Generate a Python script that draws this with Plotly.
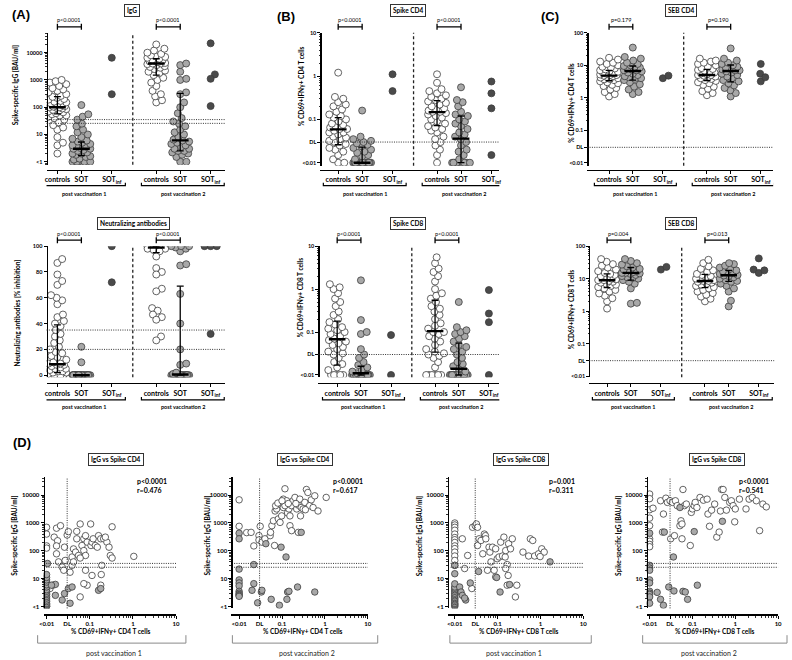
import numpy as np
import plotly.graph_objects as go

W, H = 792, 660
FONT = "Lato"

# ------------------------------------------------------------------ data
categories = ["controls", "SOT", "SOT<sub>inf</sub>"]
timepoints = ["post vaccination 1", "post vaccination 2"]

# (A) spike-specific IgG [BAU/ml]
igg_v1_controls = [2, 4, 5, 8, 15, 18, 22, 28, 35, 40, 45, 50, 50, 55, 60, 65, 70, 75, 80, 85, 90, 95, 100, 100,
                   105, 110, 120, 130, 140, 150, 160, 170, 190, 200, 220, 240, 260, 300, 350, 400, 450, 500, 600,
                   700, 800, 900, 1000]
igg_v1_sot = [1, 1, 1, 1, 1, 1, 1, 1, 1.2, 1.3, 1.5, 1.6, 1.8, 2, 2, 2.2, 2.5, 2.7, 3, 3, 3.2, 3.5, 3.8, 4, 4.5,
              5, 5.5, 6, 7, 8, 10, 12, 15, 20, 25, 35, 45, 55, 120]
igg_v1_sotinf = [6500, 300]
igg_v2_controls = [150, 180, 250, 300, 400, 600, 800, 1000, 1200, 1500, 1800, 2000, 2200, 2500, 2800, 3000, 3200,
                   3500, 3800, 4000, 4000, 4200, 4500, 4800, 5000, 5200, 5500, 6000, 6500, 7000, 7500, 8000, 9000,
                   10000, 12000, 14000, 20000]
igg_v2_sot = [1, 1, 1.5, 1.8, 2, 2.2, 2.5, 2.5, 3, 3, 3.5, 4, 4.5, 5, 5.5, 6, 6.5, 8, 10, 12, 15, 20, 25, 30, 40,
              60, 100, 150, 300, 350, 1000, 1100, 2000, 3500, 4000]
igg_v2_sotinf = [22000, 1600, 1100, 110]
igg_median = [100, 3.0, 4000, 6.1]
igg_q1 = [57, 1.7, 1500, 2.5]
igg_q3 = [245, 5.3, 6000, 320]
igg_p = ["p&lt;0.0001", "p&lt;0.0001"]
igg_ticks = [1, 10, 100, 1000, 10000]
igg_ticktext = ["&lt;1", "10", "100", "1000", "10000"]
igg_cutoffs = [25.6, 35.2]

# (A) neutralizing antibodies [% inhibition]
nab_v1_controls = [0, 0, 0, 0, 0, 1, 2, 2, 3, 3, 4, 5, 5, 6, 7, 8, 8, 9, 9, 10, 12, 14, 15, 17, 18, 20, 22, 25, 27,
                   30, 32, 35, 38, 40, 42, 45, 47, 55, 58, 60, 62, 70, 73, 78, 87, 90]
nab_v1_sot = [0] * 28 + [10, 22]
nab_v1_sotinf = [100, 72]
nab_v2_controls = [100] * 18 + [99, 99, 98, 98, 97, 96, 92, 83, 80, 78, 67, 65, 52, 50, 47, 45, 43, 30, 27]
nab_v2_sot = [0] * 20 + [1, 2, 8, 9, 20, 40, 63, 85, 86, 96, 98, 99, 100, 100, 100]
nab_v2_sotinf = [100, 100, 100, 32]
nab_median = [8.5, 0, 99, 0.5]
nab_q1 = [2, 0, 95, 0]
nab_q3 = [39, 0, 100, 69]
nab_p = ["p&lt;0.0001", "p&lt;0.0001"]
nab_ticks = [0, 20, 40, 60, 80, 100]
nab_ticktext = ["0", "20", "40", "60", "80", "100"]
nab_cutoffs = [20, 35]

# (B) spike CD4 [% CD69+IFNg+ of CD4]
scd4_v1_controls = [0.01, 0.01, 0.012, 0.015, 0.018, 0.02, 0.022, 0.025, 0.027, 0.03, 0.032, 0.035, 0.038, 0.04,
                    0.045, 0.05, 0.05, 0.055, 0.06, 0.06, 0.065, 0.07, 0.075, 0.08, 0.09, 0.1, 0.11, 0.12, 0.13,
                    0.15, 0.17, 0.2, 0.22, 0.25, 0.3, 0.33, 1.2]
scd4_v1_sot = [0.01] * 20 + [0.012, 0.014, 0.015, 0.017, 0.018, 0.02, 0.022, 0.024, 0.026, 0.028, 0.03, 0.032,
                             0.035, 0.04, 0.16]
scd4_v1_sotinf = [1.1, 0.45]
scd4_v2_controls = [0.01, 0.015, 0.02, 0.025, 0.03, 0.035, 0.04, 0.05, 0.055, 0.06, 0.065, 0.07, 0.08, 0.09, 0.1,
                    0.11, 0.12, 0.13, 0.14, 0.15, 0.15, 0.16, 0.17, 0.18, 0.2, 0.22, 0.24, 0.26, 0.28, 0.3, 0.33,
                    0.36, 0.4, 0.45, 0.5, 0.7, 1.1]
scd4_v2_sot = [0.01] * 9 + [0.012, 0.015, 0.018, 0.02, 0.025, 0.03, 0.035, 0.04, 0.045, 0.05, 0.06, 0.07, 0.08,
                            0.09, 0.1, 0.12, 0.13, 0.15, 0.2, 0.25, 0.28, 0.55]
scd4_v2_sotinf = [0.75, 0.4, 0.18, 0.015]
scd4_median = [0.059, 0.01, 0.147, 0.036]
scd4_q1 = [0.026, 0.01, 0.072, 0.01]
scd4_q3 = [0.11, 0.023, 0.27, 0.12]
scd4_p = ["p&lt;0.0001", "p&lt;0.0001"]

# (B) spike CD8
scd8_v1_controls = [0.01] * 5 + [0.013, 0.015, 0.018, 0.02, 0.025, 0.03, 0.032, 0.035, 0.04, 0.045, 0.05, 0.055,
                                 0.06, 0.065, 0.07, 0.08, 0.09, 0.1, 0.11, 0.12, 0.13, 0.15, 0.17, 0.2, 0.25, 0.3,
                                 0.4, 0.5, 0.6, 0.8, 1.0, 1.1, 1.3]
scd8_v1_sot = [0.01] * 22 + [0.011, 0.012, 0.013, 0.015, 0.017, 0.02, 0.025, 0.03, 0.04, 0.09, 0.1, 0.19, 1.6]
scd8_v1_sotinf = [0.085, 0.01]
scd8_v2_controls = [0.01] * 6 + [0.015, 0.02, 0.025, 0.028, 0.03, 0.032, 0.035, 0.04, 0.05, 0.06, 0.07, 0.08,
                                 0.09, 0.1, 0.1, 0.12, 0.14, 0.16, 0.2, 0.25, 0.3, 0.35, 0.4, 0.5, 0.6, 0.7, 0.8,
                                 1.0, 1.5, 2.0, 2.5, 3.0, 4.0, 5.5]
scd8_v2_sot = [0.01] * 18 + [0.012, 0.014, 0.016, 0.018, 0.02, 0.025, 0.03, 0.035, 0.04, 0.045, 0.05, 0.06, 0.07,
                             0.08, 0.09, 0.1, 0.11, 0.13, 0.5]
scd8_v2_sotinf = [0.95, 0.27, 0.17, 0.01]
scd8_median = [0.068, 0.011, 0.105, 0.014]
scd8_q1 = [0.017, 0.01, 0.034, 0.01]
scd8_q3 = [0.18, 0.016, 0.55, 0.055]
scd8_p = ["p&lt;0.0001", "p&lt;0.0001"]

tcell_ticks = [0.01, 0.03, 0.1, 1, 10]
tcell_ticktext = ["&lt;0.01", "DL", "0.1", "1", "10"]
detection_limit = 0.03

# (C) SEB CD4
seb4_v1_controls = [1.1, 1.3, 1.5, 1.8, 2.0, 2.3, 2.5, 2.8, 3.0, 3.2, 3.5, 3.7, 3.8, 4.0, 4.2, 4.4, 4.6, 4.8, 5.0,
                    5.0, 5.2, 5.5, 5.8, 6.0, 6.3, 6.6, 7.0, 7.5, 8.0, 8.5, 9.0, 10, 11, 12, 13, 15, 17]
seb4_v1_sot = [1.3, 1.5, 1.8, 2.2, 2.6, 3.0, 3.5, 3.8, 4.0, 4.3, 4.6, 5.0, 5.5, 6.0, 6.5, 7.0, 7.0, 7.5, 8.0, 8.5,
               9.0, 9.5, 10, 11, 12, 14, 16, 18, 35]
seb4_v1_sotinf = [4.0, 4.8]
seb4_v2_controls = [1.2, 1.4, 1.6, 1.9, 2.2, 2.5, 2.8, 3.0, 3.3, 3.5, 3.8, 4.0, 4.2, 4.5, 4.8, 5.0, 5.0, 5.3, 5.6,
                    6.0, 6.4, 6.8, 7.2, 7.7, 8.2, 9.0, 10, 11, 12, 13, 14, 16]
seb4_v2_sot = [1.1, 1.4, 1.7, 2.0, 2.4, 2.8, 3.2, 3.5, 4.0, 4.5, 5.0, 5.5, 6.0, 6.5, 7.0, 7.0, 7.5, 8.0, 8.5, 9.0,
               10, 11, 12, 14, 16, 33]
seb4_v2_sotinf = [5.5, 11, 3.2, 4.3]
seb4_median = [4.8, 6.7, 5.0, 6.7]
seb4_q1 = [3.35, 3.5, 3.4, 3.1]
seb4_q3 = [7.0, 9.5, 7.5, 10.2]
seb4_p = ["p=0.179", "p=0.190"]

# (C) SEB CD8
seb8_v1_controls = [1.2, 2.0, 2.5, 3.0, 3.5, 4.0, 4.5, 5.0, 5.5, 6.0, 6.5, 7.0, 7.5, 8.0, 8.5, 9.0, 9.0, 9.5, 10,
                    11, 12, 13, 14, 15, 17, 19, 22, 25, 28, 33, 40]
seb8_v1_sot = [1.7, 1.8, 5, 7, 8, 9, 10, 10.5, 11, 12, 13, 14, 14.5, 15, 15, 16, 17, 18, 19, 20, 22, 24, 27, 30,
               35, 40]
seb8_v1_sotinf = [19, 23]
seb8_v2_controls = [2.0, 2.4, 2.8, 3.2, 3.6, 4.0, 4.5, 5.0, 5.5, 6.0, 6.5, 7.0, 7.5, 8.0, 8.5, 8.5, 9.0, 9.5, 10,
                    11, 12, 13, 14, 16, 18, 20, 24, 30, 38]
seb8_v2_sot = [1.4, 2.1, 4, 5, 6, 7, 8, 8.5, 9, 10, 11, 12, 12.5, 13, 14, 15, 16, 17, 18, 20, 22, 25, 28, 30]
seb8_v2_sotinf = [19, 15, 42, 18]
seb8_median = [8.9, 15, 8.5, 12.7]
seb8_q1 = [5.3, 9, 5.3, 8.3]
seb8_q3 = [14, 22, 13.6, 18]
seb8_p = ["p=0.004", "p=0.013"]

seb_ticks = [0.01, 0.03, 0.1, 1, 10, 100]
seb_ticktext = ["&lt;0.01", "DL", "0.1", "1", "10", "100"]

# (D) IgG vs spike T cells  (x = % CD69+IFNg+ T cells, y = IgG BAU/ml)
d1_ctrl_x = [0.01, 0.01, 0.01, 0.01, 0.017, 0.021, 0.015, 0.018, 0.017, 0.017, 0.019, 0.023, 0.026, 0.03, 0.032,
             0.027, 0.039, 0.042, 0.047, 0.039, 0.042, 0.055, 0.06, 0.05, 0.073, 0.08, 0.087, 0.066, 0.073, 0.08,
             0.105, 0.107, 0.113, 0.12, 0.135, 0.16, 0.15, 0.18, 0.21, 0.25, 0.28, 0.3, 0.33, 0.23, 0.113, 0.087,
             0.073, 0.06, 0.08, 0.035, 0.025, 0.012, 0.014, 0.06, 0.19, 0.185, 0.18, 1.05, 0.33, 0.05]
d1_ctrl_y = [700, 400, 150, 125, 650, 800, 310, 230, 150, 78, 40, 26, 135, 370, 490, 45, 60, 117, 90, 30, 40, 68,
             920, 270, 270, 350, 205, 155, 102, 68, 920, 155, 205, 270, 155, 350, 135, 270, 270, 205, 135, 68, 55,
             310, 13, 5.8, 6.6, 2.2, 20, 17, 20, 4.4, 5.8, 55, 30, 14, 5.8, 63, 730, 500]
d1_sot_x = [0.01] * 19 + [0.016, 0.016, 0.023, 0.026, 0.035, 0.032, 0.039, 0.0105, 0.16, 0.18, 0.013]
d1_sot_y = [1, 1, 1.1, 1.2, 1.3, 1.5, 1.7, 2, 2.3, 2.7, 3, 3.5, 4, 5, 6, 7.5, 9, 11, 14,
            6.2, 2.5, 1.7, 2.9, 1.3, 4.4, 5.0, 35, 3.8, 4.4, 5.8]

d2_ctrl_x = [0.01, 0.01, 0.015, 0.019, 0.022, 0.029, 0.031, 0.029, 0.034, 0.04, 0.053, 0.054, 0.058, 0.063, 0.069,
             0.075, 0.071, 0.08, 0.082, 0.09, 0.098, 0.107, 0.107, 0.117, 0.128, 0.135, 0.145, 0.153, 0.153, 0.167,
             0.18, 0.2, 0.22, 0.24, 0.26, 0.28, 0.31, 0.34, 0.37, 0.4, 0.44, 0.48, 0.53, 0.58, 0.69, 1.07, 0.067,
             0.167, 0.24, 0.117, 0.14, 0.21, 0.1, 0.27, 0.35]
d2_ctrl_y = [6800, 760, 450, 460, 150, 350, 760, 245, 205, 270, 350, 460, 800, 1200, 2700, 3200, 4200, 5200, 1400,
             1050, 1800, 7200, 3600, 17000, 6300, 2300, 3200, 1800, 800, 4200, 6300, 8300, 3200, 4400, 7200, 3600,
             3200, 5500, 16000, 12500, 4200, 6800, 3600, 9500, 2700, 8300, 155, 530, 460, 4200, 5000, 5000, 6300,
             1800, 3000]
d2_sot_x = [0.01] * 11 + [0.022, 0.02, 0.022, 0.033, 0.034, 0.027, 0.042, 0.056, 0.087, 0.095, 0.124, 0.13, 0.135,
                          0.145, 0.23, 0.58, 0.28]
d2_sot_y = [430, 270, 22, 9, 7, 5.5, 3.5, 3, 2.7, 2.5, 2.3, 6.6, 3.8, 32, 3.3, 3.8, 1.35, 180, 1.8, 1.1, 135, 60,
            1.8, 3.3, 3.5, 5.0, 3.3, 460]

d3_ctrl_x = [0.01] * 14 + [0.015, 0.02, 0.017, 0.025, 0.026, 0.03, 0.032, 0.034, 0.037, 0.034, 0.041, 0.045, 0.049,
                           0.052, 0.053, 0.058, 0.063, 0.066, 0.07, 0.076, 0.083, 0.09, 0.098, 0.108, 0.118, 0.13,
                           0.14, 0.15, 0.154, 0.167, 0.176, 0.154, 0.18, 0.2, 0.22, 0.167, 0.26, 0.28, 0.39, 0.53,
                           0.73, 0.58, 0.66, 0.9, 1.07, 1.22, 0.98, 0.09]
d3_ctrl_y = [1000, 850, 700, 550, 400, 300, 250, 200, 150, 120, 90, 65, 45, 30,
             270, 68, 23, 4.4, 700, 800, 920, 700, 270, 155, 235, 78, 400, 350, 270, 20, 135, 90, 40, 135, 20, 118,
             52, 60, 205, 65, 310, 60, 102, 32, 13, 23, 180, 118, 270, 5.8, 2.2, 5.8, 90, 65, 65, 270, 235, 78, 118,
             90, 62, 11.5]
d3_sot_x = [0.01] * 18 + [0.013, 0.014, 0.015, 0.018, 0.017, 0.023, 0.036, 0.095, 0.114, 0.19, 1.67]
d3_sot_y = [1, 1.1, 1.2, 1.3, 1.5, 1.7, 1.9, 2.1, 2.4, 2.7, 3, 3.5, 4, 4.5, 5, 6.5, 15, 30,
            5.0, 3.3, 2.5, 1.7, 2.0, 7, 18, 11, 3.3, 6.1, 40]

d4_ctrl_x = [0.01] * 9 + [0.012, 0.02, 0.018, 0.021, 0.024, 0.026, 0.03, 0.031, 0.034, 0.038, 0.04, 0.044, 0.051,
                          0.054, 0.06, 0.057, 0.065, 0.072, 0.057, 0.089, 0.094, 0.1, 0.11, 0.116, 0.127, 0.15, 0.18,
                          0.22, 0.23, 0.25, 0.28, 0.33, 0.37, 0.42, 0.45, 0.48, 0.52, 0.57, 0.62, 0.74, 0.81, 0.89,
                          0.97, 1.0, 1.25, 1.78, 2.1, 2.5, 3.1, 3.7, 4.4, 5.3]
d4_ctrl_y = [11000, 7500, 3000, 1500, 800, 270, 220, 170, 140,
             3400, 470, 6300, 2100, 7800, 5500, 6300, 270, 5500, 350, 6300, 4200, 800, 1200, 16000, 920, 4200, 4800,
             270, 155, 2400, 3200, 4200, 5500, 3600, 8300, 6600, 7200, 2100, 760, 2900, 4800, 310, 470, 2700, 16000,
             16000, 8300, 2900, 5500, 6300, 4200, 1100, 3200, 7200, 3200, 7200, 8300, 6300, 530, 4800, 3800]
d4_sot_x = [0.01] * 11 + [0.015, 0.018, 0.021, 0.022, 0.028, 0.036, 0.037, 0.051, 0.06, 0.068, 0.077, 0.11, 0.13, 0.5]
d4_sot_y = [430, 30, 24, 20, 9, 7, 3.5, 3, 2.7, 2.2, 1.3,
            3.2, 1.8, 1.1, 470, 5.0, 60, 3.6, 3600, 3.5, 3.3, 1.8, 490, 5.8, 1150]

corr_stats = [("p&lt;0.0001", "r=0.476"), ("p&lt;0.0001", "r=0.617"),
              ("p=0.001", "r=0.311"), ("p&lt;0.0001", "r=0.541")]
corr_titles = ["IgG vs Spike CD4", "IgG vs Spike CD4", "IgG vs Spike CD8", "IgG vs Spike CD8"]
corr_xtitles = ["% CD69+IFNγ+ CD4 T cells", "% CD69+IFNγ+ CD4 T cells",
                "% CD69+IFNγ+ CD8 T cells", "% CD69+IFNγ+ CD8 T cells"]
corr_tp = [0, 1, 0, 1]

# ------------------------------------------------------------------ styling / helpers
CAT_POS = [0, 0.97, 2.2, 4, 4.97, 6.2]
FILL = ["white", "#a8a8a8", "#4a4a4a"]
EDGE = "#3c3c3c"
DOT = "1px,1.3px"
DASH = "3px,2.5px"
LOG_MINOR = [m * 10.0 ** k for k in range(-1, 5) for m in range(2, 10)]
D_XMINOR = [m * 10.0 ** k for k in (-2, -1, 0) for m in range(2, 10) if m * 10.0 ** k > 0.035]


def PX(x):
    return x / W


def PY(y):
    return 1 - y / H


def names(i):
    s = "" if i == 1 else str(i)
    return "xaxis" + s, "yaxis" + s, "x" + s, "y" + s


def swarm(vals, to_px, diam=6.2, cap=9.0):
    vals = np.asarray(vals, float)
    order = np.argsort(vals, kind="stable")
    px_, py_ = [], []
    offs = np.zeros(len(vals))
    for i in order:
        y = to_px(vals[i])
        near = [(a, b) for a, b in zip(px_, py_) if abs(b - y) < diam]
        cands = [0.0]
        for a, b in near:
            d = np.sqrt(max(diam ** 2 - (b - y) ** 2, 0.0))
            cands += [a + d, a - d]
        best = None
        for c in sorted(cands, key=lambda t: (abs(t), -t)):
            if abs(c) > cap + 1e-9:
                continue
            if all((c - a) ** 2 + (y - b) ** 2 >= diam ** 2 - 1e-6 for a, b in near):
                best = c
                break
        if best is None:
            grid = np.linspace(-cap, cap, 41)
            score = [min((g - a) ** 2 + (y - b) ** 2 for a, b in near) for g in grid]
            best = float(grid[int(np.argmax(score))])
        offs[i] = best
        px_.append(best)
        py_.append(y)
    return offs


fig = go.Figure()
layout = {}
shapes = []
annots = []


def text(x, y, s, size=6, bold=True, xanchor="center", yanchor="middle", angle=0, color="black",
         xref="paper", family=FONT, **kw):
    annots.append(dict(x=x, y=y, xref=xref, yref="paper", text=("<b>%s</b>" % s) if bold else s,
                       showarrow=False, xanchor=xanchor, yanchor=yanchor, textangle=angle,
                       font=dict(family=family, size=size, color=color), **kw))


def title_box(cx, cy, s, size=6.5):
    text(PX(cx), PY(cy), s, size=size, bordercolor="#333", borderwidth=1, borderpad=2, bgcolor="white")


# ------------------------------------------------------------------ column-scatter panels
col_panels = [
    dict(groups=[igg_v1_controls, igg_v1_sot, igg_v1_sotinf, igg_v2_controls, igg_v2_sot, igg_v2_sotinf],
         med=igg_median, q1=igg_q1, q3=igg_q3, p=igg_p, ticks=igg_ticks, ticktext=igg_ticktext,
         hlines=igg_cutoffs, log=True, title="IgG", ytitle="Spike-specific IgG [BAU/ml]",
         left=42, right=223, top=30, bottom=163, xline=168, cat0=53, unit=25.0, yr=(-0.11, 4.73),
         title_xy=(128, 8), ytitle_xy=(10, 83), p_y=(17, 24), br_y=(184, 192)),
    dict(groups=[nab_v1_controls, nab_v1_sot, nab_v1_sotinf, nab_v2_controls, nab_v2_sot, nab_v2_sotinf],
         med=nab_median, q1=nab_q1, q3=nab_q3, p=nab_p, ticks=nab_ticks, ticktext=nab_ticktext,
         hlines=nab_cutoffs, log=False, title="Neutralizing antibodies",
         ytitle="Neutralizing antibodies [% inhibition]",
         left=42, right=223, top=245, bottom=377, xline=383, cat0=53, unit=25.0, yr=(-1.5, 100),
         title_xy=(130, 222), ytitle_xy=(13, 312), p_y=(233, 239), br_y=(400, 407)),
    dict(groups=[scd4_v1_controls, scd4_v1_sot, scd4_v1_sotinf, scd4_v2_controls, scd4_v2_sot, scd4_v2_sotinf],
         med=scd4_median, q1=scd4_q1, q3=scd4_q3, p=scd4_p, ticks=tcell_ticks, ticktext=tcell_ticktext,
         hlines=[detection_limit], log=True, title="Spike CD4", ytitle="% CD69+IFNγ+ CD4 T cells",
         left=319, right=500, top=30, bottom=164, xline=168, cat0=337, unit=25.0, yr=(-2.07, 1),
         title_xy=(408, 8), ytitle_xy=(300, 84), p_y=(17, 24), br_y=(184, 192)),
    dict(groups=[scd8_v1_controls, scd8_v1_sot, scd8_v1_sotinf, scd8_v2_controls, scd8_v2_sot, scd8_v2_sotinf],
         med=scd8_median, q1=scd8_q1, q3=scd8_q3, p=scd8_p, ticks=tcell_ticks, ticktext=tcell_ticktext,
         hlines=[detection_limit], log=True, title="Spike CD8", ytitle="% CD69+IFNγ+ CD8 T cells",
         left=317, right=500, top=245, bottom=377, xline=383, cat0=336, unit=24.75, yr=(-2.05, 1),
         title_xy=(408, 222), ytitle_xy=(299, 297), p_y=(233, 239), br_y=(400, 407)),
    dict(groups=[seb4_v1_controls, seb4_v1_sot, seb4_v1_sotinf, seb4_v2_controls, seb4_v2_sot, seb4_v2_sotinf],
         med=seb4_median, q1=seb4_q1, q3=seb4_q3, p=seb4_p, ticks=seb_ticks, ticktext=seb_ticktext,
         hlines=[detection_limit], log=True, title="SEB CD4", ytitle="% CD69+IFNγ+ CD4 T cells",
         left=589, right=777, top=30, bottom=164, xline=168, cat0=611, unit=24.75, yr=(-2.09, 2),
         title_xy=(684, 8), ytitle_xy=(573, 100), p_y=(17, 24), br_y=(184, 192)),
    dict(groups=[seb8_v1_controls, seb8_v1_sot, seb8_v1_sotinf, seb8_v2_controls, seb8_v2_sot, seb8_v2_sotinf],
         med=seb8_median, q1=seb8_q1, q3=seb8_q3, p=seb8_p, ticks=seb_ticks, ticktext=seb_ticktext,
         hlines=[detection_limit], log=True, title="SEB CD8", ytitle="% CD69+IFNγ+ CD8 T cells",
         left=591, right=778, top=245, bottom=377, xline=383, cat0=609, unit=24.75, yr=(-2.03, 2),
         title_xy=(684, 222), ytitle_xy=(573, 308), p_y=(233, 239), br_y=(400, 407)),
]

for idx, g in enumerate(col_panels, start=1):
    xa, ya, xr, yr = names(idx)
    lo, hi = g["yr"]
    hpx = g["bottom"] - g["top"]
    log = g["log"]

    def to_px(v, lo=lo, hi=hi, hpx=hpx, log=log):
        f = np.log10(v) if log else v
        return (f - lo) / (hi - lo) * hpx

    # reference lines
    for hv in g["hlines"]:
        shapes.append(dict(type="line", xref=xr + " domain", x0=0, x1=1, yref=yr, y0=hv, y1=hv,
                           line=dict(color="#333", width=1, dash=DOT)))
    shapes.append(dict(type="line", xref=xr, x0=3.05, x1=3.05, yref=yr + " domain", y0=0, y1=1,
                       line=dict(color="#222", width=1.3, dash=DASH)))

    for k, vals in enumerate(g["groups"]):
        offs = swarm(vals, to_px)
        xs = CAT_POS[k] + offs / g["unit"]
        fig.add_trace(go.Scatter(x=xs, y=vals, mode="markers", xaxis=xr, yaxis=yr, hoverinfo="skip",
                                 marker=dict(size=7, color=FILL[k % 3], line=dict(color=EDGE, width=0.8)),
                                 showlegend=False))
    for j, k in enumerate([0, 1, 3, 4]):
        c = CAT_POS[k]
        a, b, m = g["q1"][j], g["q3"][j], g["med"][j]
        fig.add_trace(go.Scatter(x=[c - 0.14, c + 0.14, None, c, c, None, c - 0.14, c + 0.14],
                                 y=[a, a, None, a, b, None, b, b], mode="lines", xaxis=xr, yaxis=yr,
                                 line=dict(color="black", width=1.3), hoverinfo="skip", showlegend=False))
        fig.add_trace(go.Scatter(x=[c - 0.34, c + 0.34], y=[m, m], mode="lines", xaxis=xr, yaxis=yr,
                                 line=dict(color="black", width=2.4), hoverinfo="skip", showlegend=False))

    x0 = (g["left"] - g["cat0"]) / g["unit"]
    x1 = (g["right"] - g["cat0"]) / g["unit"]
    layout[xa] = dict(domain=[PX(g["left"]), PX(g["right"])], range=[x0, x1], anchor="free",
                      position=PY(g["xline"]), showline=True, linecolor="black", linewidth=1.2,
                      ticks="outside", ticklen=3, tickwidth=1, tickcolor="black", tickvals=CAT_POS,
                      ticktext=["<b>%s</b>" % c for c in categories] * 2,
                      tickfont=dict(family=FONT, size=7, color="black"), showgrid=False, zeroline=False)
    yax = dict(domain=[PY(g["bottom"]), PY(g["top"])], type="log" if log else "linear",
               range=[lo, hi], anchor="free", position=PX(g["left"]), showline=True, linecolor="black",
               linewidth=1.2, ticks="outside", ticklen=3, tickwidth=1, tickcolor="black",
               tickvals=g["ticks"], ticktext=["<b>%s</b>" % t for t in g["ticktext"]],
               tickfont=dict(family=FONT, size=5.5, color="black"), showgrid=False, zeroline=False)
    if log:
        yax["minor"] = dict(tickmode="array", tickvals=[v for v in LOG_MINOR if v > 0.09 or g["ticks"][0] >= 1],
                            ticks="outside", ticklen=1.5, tickcolor="black", tickwidth=0.8)
    layout[ya] = yax

    # significance brackets
    for tp in range(2):
        ca, cb = CAT_POS[3 * tp], CAT_POS[3 * tp + 1]
        yb = g["p_y"][1]
        shapes.append(dict(type="line", xref=xr, yref="paper", x0=ca, x1=cb, y0=PY(yb), y1=PY(yb),
                           line=dict(color="black", width=1.3)))
        for cx in (ca, cb):
            shapes.append(dict(type="line", xref=xr, yref="paper", x0=cx, x1=cx, y0=PY(yb - 3), y1=PY(yb + 3),
                               line=dict(color="black", width=1.3)))
        text((ca + cb) / 2, PY(g["p_y"][0]), g["p"][tp], size=5.5, bold=False, xref=xr)
        # group bracket
        ga, gb = CAT_POS[3 * tp] - 0.6, CAT_POS[3 * tp + 2] + 0.55
        yb2 = g["br_y"][0]
        shapes.append(dict(type="path", xref=xr, yref="paper",
                           path="M %f,%f L %f,%f L %f,%f L %f,%f" % (ga, PY(yb2 - 3), ga, PY(yb2), gb, PY(yb2),
                                                                     gb, PY(yb2 - 3)),
                           line=dict(color="black", width=1.2)))
        text((ga + gb) / 2, PY(g["br_y"][1]), timepoints[tp], size=5.5, xref=xr)

    title_box(*g["title_xy"], g["title"])
    text(PX(g["ytitle_xy"][0]), PY(g["ytitle_xy"][1]), g["ytitle"], size=6.5, angle=-90)

# panel letters
for lab, (x, y) in zip(["(A)", "(B)", "(C)", "(D)"], [(16, 12), (284, 14), (551, 14), (17, 443)]):
    text(PX(x), PY(y), lab, size=13, family="Liberation Sans")

# ------------------------------------------------------------------ correlation panels (D)
corr_geo = [
    dict(left=39, right=173, xr0=-2.07, title_x=112, stats_x=131, ytitle_x=10, xtitle_x=107, br=(33, 183), br_t=110),
    dict(left=229, right=367, xr0=-2.18, title_x=303, stats_x=330, ytitle_x=205, xtitle_x=301, br=(230, 377), br_t=305),
    dict(left=448, right=585, xr0=-2.16, title_x=522, stats_x=548, ytitle_x=420, xtitle_x=520, br=(450, 593), br_t=515),
    dict(left=649, right=782, xr0=-2.07, title_x=720, stats_x=740, ytitle_x=621, xtitle_x=718, br=(645, 791), br_t=712),
]
corr_data = [(d1_ctrl_x, d1_ctrl_y, d1_sot_x, d1_sot_y), (d2_ctrl_x, d2_ctrl_y, d2_sot_x, d2_sot_y),
             (d3_ctrl_x, d3_ctrl_y, d3_sot_x, d3_sot_y), (d4_ctrl_x, d4_ctrl_y, d4_sot_x, d4_sot_y)]
D_TOP, D_BOT, D_XLINE = 478, 610, 616

for n, (g, dat) in enumerate(zip(corr_geo, corr_data)):
    idx = 7 + n
    xa, ya, xr, yr = names(idx)
    cx, cy, sx, sy = dat
    for hv in igg_cutoffs:
        shapes.append(dict(type="line", xref=xr + " domain", x0=0.02, x1=1, yref=yr, y0=hv, y1=hv,
                           line=dict(color="#333", width=1, dash=DOT)))
    shapes.append(dict(type="line", xref=xr, x0=detection_limit, x1=detection_limit, yref=yr + " domain",
                       y0=0, y1=1, line=dict(color="#333", width=1, dash=DOT)))
    fig.add_trace(go.Scatter(x=cx, y=cy, mode="markers", xaxis=xr, yaxis=yr, hoverinfo="skip", showlegend=False,
                             marker=dict(size=6.5, color="white", line=dict(color=EDGE, width=0.8))))
    fig.add_trace(go.Scatter(x=sx, y=sy, mode="markers", xaxis=xr, yaxis=yr, hoverinfo="skip", showlegend=False,
                             marker=dict(size=6.5, color=FILL[1], line=dict(color=EDGE, width=0.8))))
    layout[xa] = dict(domain=[PX(g["left"]), PX(g["right"])], type="log", range=[g["xr0"], 1], anchor="free",
                      position=PY(D_XLINE), showline=True, linecolor="black", linewidth=1.2, ticks="outside",
                      ticklen=3, tickwidth=1, tickcolor="black", tickvals=tcell_ticks,
                      ticktext=["<b>%s</b>" % t for t in tcell_ticktext],
                      tickfont=dict(family=FONT, size=6, color="black"), showgrid=False, zeroline=False,
                      minor=dict(tickmode="array", tickvals=D_XMINOR, ticks="outside", ticklen=2,
                                 tickcolor="black", tickwidth=0.8))
    layout[ya] = dict(domain=[PY(D_BOT), PY(D_TOP)], type="log", range=[-0.07, 4.64], anchor="free",
                      position=PX(g["left"]), showline=True, linecolor="black", linewidth=1.2, ticks="outside",
                      ticklen=3, tickwidth=1, tickcolor="black", tickvals=igg_ticks,
                      ticktext=["<b>%s</b>" % t for t in igg_ticktext],
                      tickfont=dict(family=FONT, size=6, color="black"), showgrid=False, zeroline=False,
                      minor=dict(tickmode="array", tickvals=[v for v in LOG_MINOR if v >= 2], ticks="outside",
                                 ticklen=2, tickcolor="black", tickwidth=0.8))
    title_box(g["title_x"], 460, corr_titles[n], size=6.5)
    text(PX(g["stats_x"]), PY(482), corr_stats[n][0], size=7, xanchor="left")
    text(PX(g["stats_x"]), PY(491), corr_stats[n][1], size=7, xanchor="left")
    text(PX(g["ytitle_x"]), PY(537), "Spike-specific IgG [BAU/ml]", size=6.5, angle=-90)
    text(PX(g["xtitle_x"]), PY(633), corr_xtitles[n], size=6.5)
    b0, b1 = g["br"]
    shapes.append(dict(type="path", xref="paper", yref="paper",
                       path="M %f,%f L %f,%f L %f,%f L %f,%f" % (PX(b0), PY(637), PX(b0), PY(645), PX(b1), PY(645),
                                                                 PX(b1), PY(637)),
                       line=dict(color="#8a8a8a", width=1)))
    text(PX(g["br_t"]), PY(655), timepoints[corr_tp[n]], size=7, bold=False, color="#222")

fig.update_layout(width=W, height=H, margin=dict(l=0, r=0, t=0, b=0), paper_bgcolor="white",
                  plot_bgcolor="rgba(0,0,0,0)", showlegend=False, shapes=shapes, annotations=annots,
                  font=dict(family=FONT), hovermode=False, dragmode=False, **layout)
fig.write_html("out.html", config={"displayModeBar": False, "staticPlot": True},
               post_script="document.body.style.margin='0px';document.body.style.overflow='hidden';")
